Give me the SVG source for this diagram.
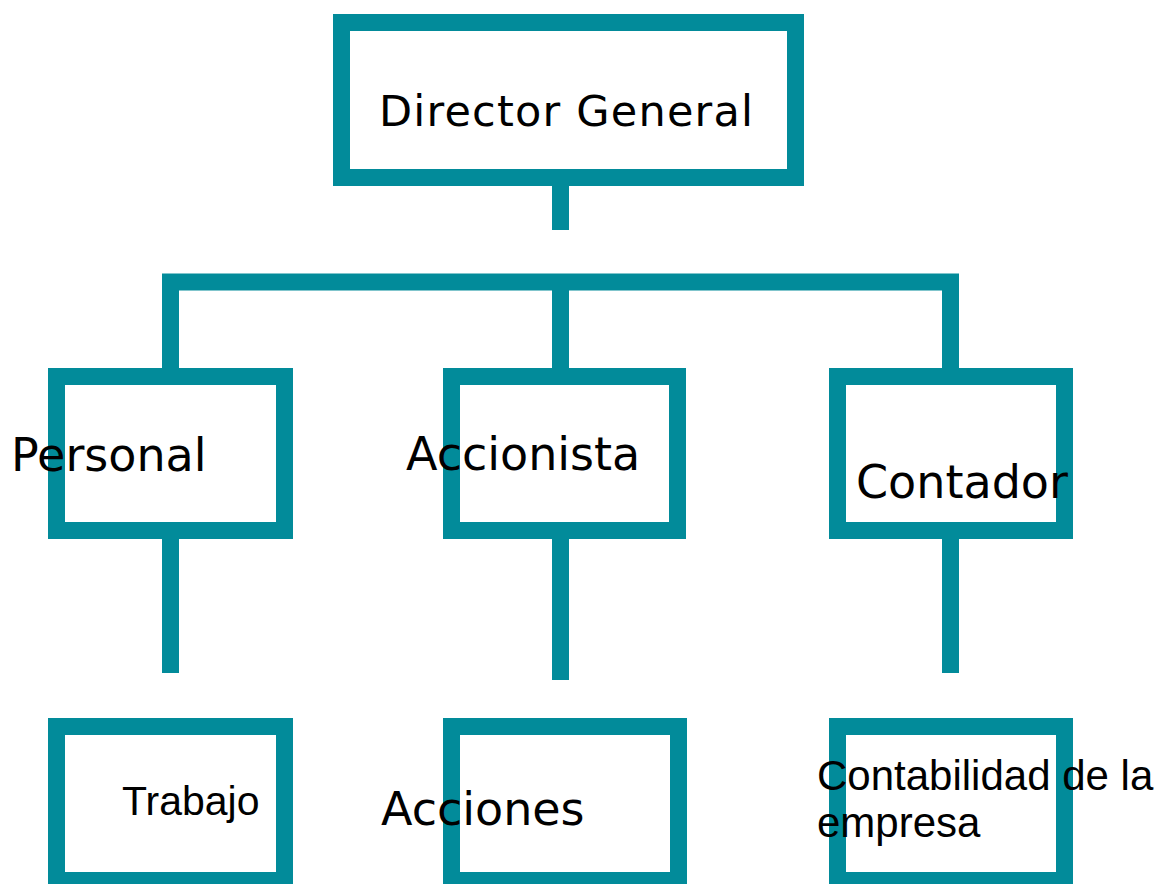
<svg xmlns="http://www.w3.org/2000/svg" width="1160" height="884" viewBox="0 0 1160 884">
<style>
.box{fill:#ffffff;stroke:#028b9a;stroke-width:17}
.con{fill:none;stroke:#028b9a;stroke-width:17;stroke-linejoin:miter;stroke-linecap:butt}
.t1{font-family:"DejaVu Sans",sans-serif;fill:#000}
.t2{font-family:"Liberation Sans",Arial,sans-serif;fill:#000}
</style>
<rect width="1160" height="884" fill="#ffffff"/>
<g id="connectors">
<path class="con" d="M560.5,186 V230"/>
<path class="con" d="M170.5,368 V282 H950.5 V368"/>
<path class="con" d="M560.5,282 V368"/>
<path class="con" d="M170.5,539 V673"/>
<path class="con" d="M560.5,539 V680"/>
<path class="con" d="M950.5,539 V673"/>
</g>
<g id="director">
<rect class="box" x="341.5" y="22.5" width="454" height="155"/>
<text class="t1" x="379" y="126" font-size="43" textLength="374" lengthAdjust="spacing">Director General</text>
</g>
<g id="personal">
<rect class="box" x="56.5" y="376.5" width="228" height="154"/>
<text class="t1" x="11" y="471" font-size="46">Personal</text>
</g>
<g id="accionista">
<rect class="box" x="451.5" y="376.5" width="226" height="154"/>
<text class="t1" x="406" y="470" font-size="46">Accionista</text>
</g>
<g id="contador">
<rect class="box" x="837.5" y="376.5" width="227" height="154"/>
<text class="t1" x="856" y="498" font-size="46">Contador</text>
</g>
<g id="trabajo">
<rect class="box" x="56.5" y="726.5" width="228" height="154"/>
<text class="t2" x="122" y="815" font-size="41">Trabajo</text>
</g>
<g id="acciones">
<rect class="box" x="451.5" y="726.5" width="227" height="154"/>
<text class="t1" x="381" y="825" font-size="46">Acciones</text>
</g>
<g id="contabilidad">
<rect class="box" x="837.5" y="726.5" width="227" height="154"/>
<text class="t2" font-size="42"><tspan x="817" y="790">Contabilidad de la</tspan><tspan x="817" y="837">empresa</tspan></text>
</g>
</svg>
